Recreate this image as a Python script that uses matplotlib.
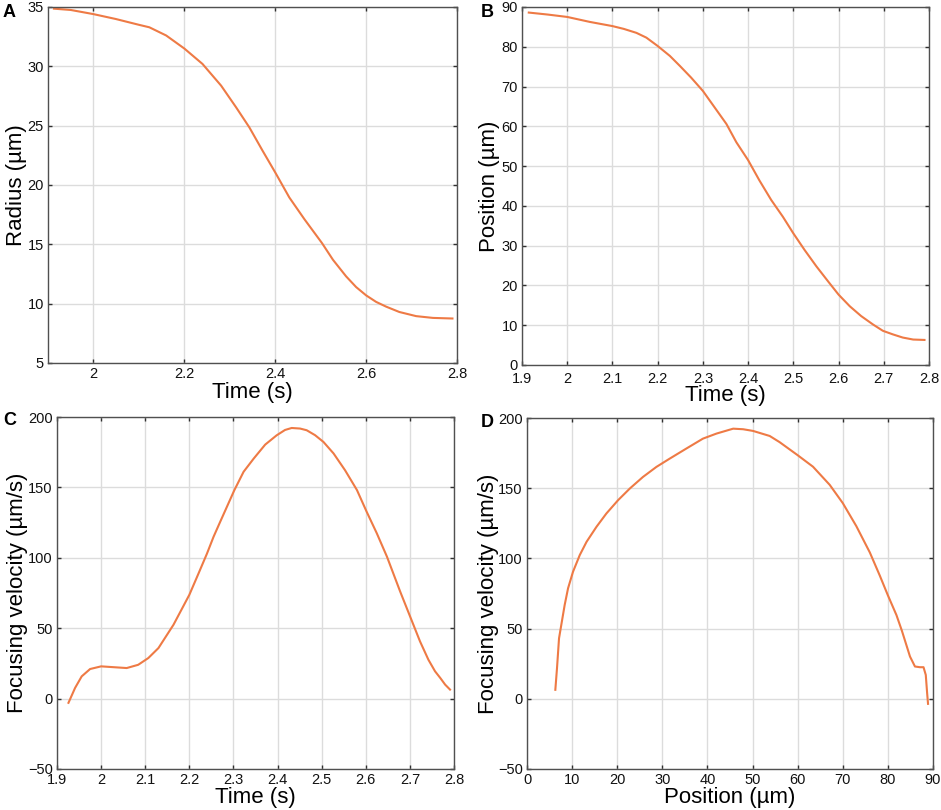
import matplotlib
matplotlib.use("Agg")
import matplotlib.pyplot as plt

plt.rcParams['font.family'] = ['Liberation Sans', 'DejaVu Sans']

# Panel A: radius vs time
time_a = [1.913, 1.95, 2.0, 2.049, 2.1, 2.123, 2.16, 2.2, 2.24, 2.281, 2.314, 2.343, 2.372,
          2.4, 2.431, 2.464, 2.503, 2.527, 2.556, 2.578, 2.6, 2.622, 2.644, 2.673, 2.71,
          2.747, 2.79]
radius = [34.86, 34.75, 34.4, 33.99, 33.5, 33.29, 32.6, 31.5, 30.2, 28.37, 26.54, 24.86, 22.9,
          21.06, 18.95, 17.13, 15.1, 13.7, 12.3, 11.4, 10.7, 10.15, 9.75, 9.3, 8.95,
          8.8, 8.75]

# Panel B: position vs time
time_b = [1.915, 1.957, 2.0, 2.05, 2.1, 2.125, 2.153, 2.175, 2.2, 2.227, 2.249, 2.274, 2.3,
          2.326, 2.352, 2.374, 2.4, 2.425, 2.451, 2.477, 2.5, 2.525, 2.551, 2.577, 2.6, 2.625,
          2.65, 2.676, 2.698, 2.72, 2.742, 2.765, 2.79]
position = [88.6, 88.1, 87.5, 86.25, 85.2, 84.5, 83.5, 82.3, 80.2, 77.7, 75.2, 72.25, 68.9,
            64.75, 60.6, 56.0, 51.5, 46.4, 41.5, 37.25, 33.1, 28.9, 24.8, 21.0, 17.7, 14.75,
            12.3, 10.2, 8.6, 7.7, 6.9, 6.4, 6.3]

# Panel C: focusing velocity vs time
time_c = [1.926, 1.941, 1.956, 1.975, 2.0, 2.024, 2.058, 2.084, 2.107, 2.13, 2.164, 2.2, 2.221,
          2.24, 2.255, 2.27, 2.302, 2.323, 2.346, 2.372, 2.398, 2.417, 2.432, 2.451, 2.466,
          2.485, 2.504, 2.527, 2.553, 2.58, 2.602, 2.625, 2.648, 2.678, 2.708, 2.723, 2.742,
          2.757, 2.769, 2.78, 2.791]
velocity_c = [-3.0, 7.6, 15.8, 21.0, 22.9, 22.4, 21.7, 24.0, 28.8, 35.9, 52.4, 73.7, 89.0,
              103.0, 115.0, 125.6, 148.0, 161.1, 170.5, 180.4, 187.0, 190.8, 192.2, 191.8,
              190.6, 187.1, 182.3, 174.1, 162.2, 148.1, 132.7, 117.4, 100.8, 76.0, 52.4, 40.6,
              27.6, 19.4, 14.6, 9.9, 6.4]

# Panel D: focusing velocity vs position
position_d = [6.28, 6.65, 7.1, 7.6, 8.35, 9.1, 10.2, 11.7, 13.2, 15.4, 17.6, 20.2, 22.8, 25.7,
              28.7, 31.6, 35.3, 39.0, 42.0, 45.7, 47.9, 50.1, 53.8, 56.0, 60.0, 63.4, 67.1,
              70.0, 73.0, 76.0, 78.2, 80.0, 81.9, 83.1, 84.9, 86.0, 87.1, 87.9, 88.4, 88.7, 88.9]
velocity_d = [6.4, 21.8, 43.1, 52.6, 66.8, 78.7, 90.5, 102.4, 111.8, 122.5, 132.0, 141.5, 149.8,
              158.0, 165.2, 171.0, 178.2, 185.3, 188.9, 192.4, 192.0, 190.8, 187.2, 182.8,
              173.5, 165.3, 152.4, 139.4, 123.0, 104.2, 87.8, 73.7, 59.6, 48.5, 30.1, 23.0,
              22.5, 22.5, 17.0, 4.0, -3.6]

line_col = '#ee7a45'
W, H = 941, 810
time_ticks = [1.9, 2, 2.1, 2.2, 2.3, 2.4, 2.5, 2.6, 2.7, 2.8]
time_labels = ['1.9', '2', '2.1', '2.2', '2.3', '2.4', '2.5', '2.6', '2.7', '2.8']


def make_axes(fig, left, right, top, bottom):
    return fig.add_axes([left / W, 1 - bottom / H, (right - left) / W, (bottom - top) / H])


def style(ax, xlabel, ylabel, xlab_y, ylab_x, xpad=3):
    ax.grid(True, color='#dcdcdc', linewidth=1.0)
    ax.set_axisbelow(True)
    for sp in ax.spines.values():
        sp.set_color('#505050')
        sp.set_linewidth(1.0)
    ax.tick_params(direction='in', length=3, width=1, color='#303030', top=True, right=True,
                   labelsize=10.5, pad=3, labelcolor='#111111')
    ax.tick_params(axis='x', pad=xpad)
    ax.set_xlabel(xlabel, fontsize=16, va='center')
    ax.set_ylabel(ylabel, fontsize=16, va='center')
    ax.xaxis.set_label_coords(0.5, xlab_y)
    ax.yaxis.set_label_coords(ylab_x, 0.5)


fig = plt.figure(figsize=(W / 100, H / 100), dpi=100)

# A
ax = make_axes(fig, 48, 457, 7, 363)
ax.plot(time_a, radius, color=line_col, linewidth=1.5, solid_joinstyle='round')
ax.set_xlim(1.9, 2.8)
ax.set_ylim(5, 35)
ax.set_xticks([2, 2.2, 2.4, 2.6, 2.8])
ax.set_xticklabels(['2', '2.2', '2.4', '2.6', '2.8'])
ax.set_yticks([5, 10, 15, 20, 25, 30, 35])
style(ax, 'Time (s)', 'Radius (µm)', -0.082, -0.078)

# B
ax = make_axes(fig, 522, 929, 7, 365)
ax.plot(time_b, position, color=line_col, linewidth=1.5, solid_joinstyle='round')
ax.set_xlim(1.9, 2.8)
ax.set_ylim(0, 90)
ax.set_xticks(time_ticks)
ax.set_xticklabels(time_labels)
ax.set_yticks(range(0, 91, 10))
style(ax, 'Time (s)', 'Position (µm)', -0.084, -0.081, xpad=5)

# C
ax = make_axes(fig, 57, 454, 417, 769)
ax.plot(time_c, velocity_c, color=line_col, linewidth=1.5, solid_joinstyle='round')
ax.set_xlim(1.9, 2.8)
ax.set_ylim(-50, 200)
ax.set_xticks(time_ticks)
ax.set_xticklabels(time_labels)
ax.set_yticks(range(-50, 201, 50))
style(ax, 'Time (s)', 'Focusing velocity (µm/s)', -0.08, -0.10)

# D
ax = make_axes(fig, 527, 933, 418, 769)
ax.plot(position_d, velocity_d, color=line_col, linewidth=1.5, solid_joinstyle='round')
ax.set_xlim(0, 90)
ax.set_ylim(-50, 200)
ax.set_xticks(range(0, 91, 10))
ax.set_yticks(range(-50, 201, 50))
style(ax, 'Position (µm)', 'Focusing velocity (µm/s)', -0.08, -0.096)

for letter, x, y in [('A', 3, 4), ('B', 481, 4), ('C', 3, 412), ('D', 481, 414)]:
    fig.text(x / W, 1 - y / H, letter, fontsize=13, fontweight='bold', va='top', ha='left')

fig.savefig('out.png', dpi=100)
